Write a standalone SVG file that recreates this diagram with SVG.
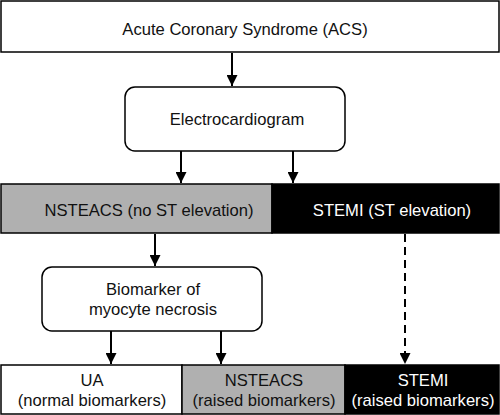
<svg xmlns="http://www.w3.org/2000/svg" width="500" height="415" viewBox="0 0 500 415">
<defs>
<marker id="ah" viewBox="0 0 11 11" refX="11" refY="5.5" markerWidth="11" markerHeight="11" markerUnits="userSpaceOnUse" orient="auto">
<path d="M0,0 L11,5.5 L0,11 Z" fill="#000"/>
</marker>
<style>
text{font-family:"Liberation Sans",Arial,sans-serif;font-size:16.6px;text-anchor:middle}
.b{stroke:#000;stroke-width:1.5}
.w{fill:#fff}.g{fill:#b0b0b0}.k{fill:#000}
.tw{fill:#fff}.tk{fill:#111}
.c{stroke:#000;stroke-width:2;fill:none;marker-end:url(#ah)}
</style>
</defs>
<rect width="500" height="415" fill="#fff"/>
<g id="acs"><rect class="b w" x="1" y="1" width="498" height="51"/><text class="tk" x="245" y="35">Acute Coronary Syndrome (ACS)</text></g>
<g id="ecg"><rect class="b w" x="125" y="87" width="220" height="64" rx="10"/><text class="tk" x="237" y="125">Electrocardiogram</text></g>
<g id="nsteacs1"><rect class="b g" x="1" y="184" width="271" height="49"/><text class="tk" x="149" y="216">NSTEACS (no ST elevation)</text></g>
<g id="stemi1"><rect class="b k" x="272" y="184" width="227" height="49"/><text class="tw" x="392" y="216">STEMI (ST elevation)</text></g>
<g id="bio"><rect class="b w" x="42" y="267" width="220" height="64" rx="10"/><text class="tk" x="153" y="295">Biomarker of</text><text class="tk" x="153" y="315">myocyte necrosis</text></g>
<g id="ua"><rect class="b w" x="1" y="365" width="181" height="49"/><text class="tk" x="92" y="386">UA</text><text class="tk" x="92" y="406">(normal biomarkers)</text></g>
<g id="nsteacs2"><rect class="b g" x="182" y="365" width="163" height="49"/><text class="tk" x="264" y="386">NSTEACS</text><text class="tk" x="264" y="406">(raised biomarkers)</text></g>
<g id="stemi2"><rect class="b k" x="345" y="365" width="154" height="49"/><text class="tw" x="423" y="386">STEMI</text><text class="tw" x="423" y="406">(raised biomarkers)</text></g>
<g id="connectors">
<line class="c" x1="232" y1="53" x2="232" y2="86"/>
<line class="c" x1="181" y1="151" x2="181" y2="183"/>
<line class="c" x1="293" y1="151" x2="293" y2="183"/>
<line class="c" x1="155" y1="234" x2="155" y2="266"/>
<line class="c" x1="111" y1="331" x2="111" y2="364"/>
<line class="c" x1="221" y1="331" x2="221" y2="364"/>
<line class="c" x1="405" y1="234" x2="405" y2="364" stroke-dasharray="8,5"/>
</g>
</svg>
